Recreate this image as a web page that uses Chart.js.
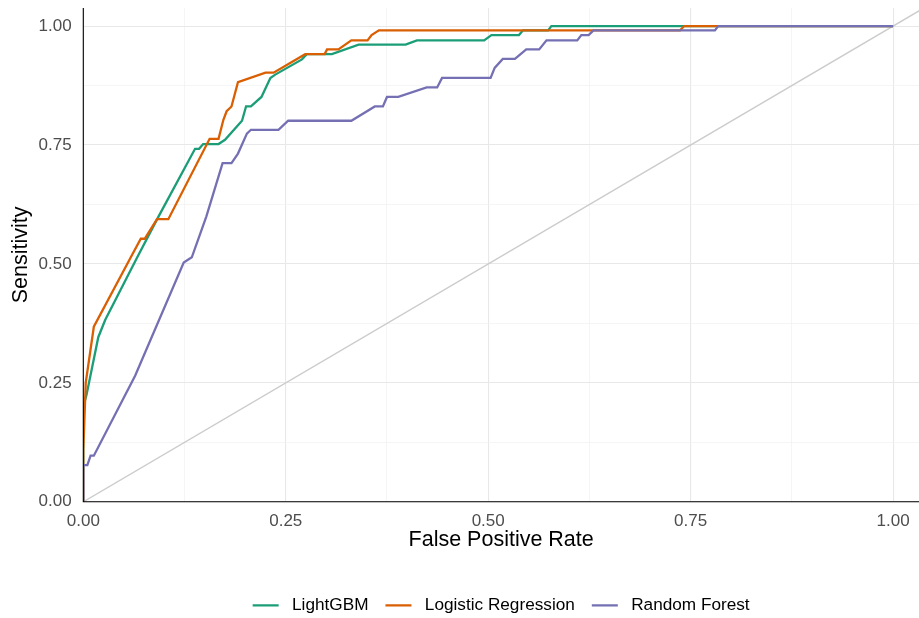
<!DOCTYPE html>
<html>
<head>
<meta charset="utf-8">
<title>ROC curves</title>
<script src="https://cdn.jsdelivr.net/npm/chart.js@4.4.1/dist/chart.umd.min.js"></script>
<style>
    html, body { margin: 0; padding: 0; background: #ffffff; }
    #wrap { width: 919px; height: 618px; }
</style>
</head>
<body>
<div id="wrap"><canvas id="roc"></canvas></div>
<script>
// series
const seriesNames = ["LightGBM", "Logistic Regression", "Random Forest"];
const seriesColors = ["#1b9e77", "#d95f02", "#7570b3"];

const lgbmFpr = [0, 0, 0.004, 0.0185, 0.027, 0.066, 0.093, 0.138, 0.143, 0.148, 0.167, 0.175, 0.196, 0.201, 0.207, 0.220, 0.231, 0.237, 0.270, 0.276, 0.307, 0.340, 0.398, 0.412, 0.495, 0.504, 0.538, 0.543, 0.574, 0.578, 1];
const lgbmTpr = [0, 0.20, 0.225, 0.346, 0.382, 0.512, 0.600, 0.742, 0.742, 0.752, 0.752, 0.761, 0.801, 0.831, 0.831, 0.851, 0.891, 0.898, 0.930, 0.941, 0.941, 0.961, 0.961, 0.970, 0.970, 0.981, 0.981, 0.991, 0.991, 1, 1];

const logregFpr = [0, 0, 0.003, 0.013, 0.058, 0.071, 0.076, 0.091, 0.105, 0.156, 0.167, 0.173, 0.177, 0.183, 0.191, 0.225, 0.235, 0.274, 0.298, 0.301, 0.315, 0.331, 0.351, 0.356, 0.365, 0.737, 0.742, 1];
const logregTpr = [0, 0.109, 0.250, 0.368, 0.512, 0.553, 0.553, 0.594, 0.594, 0.763, 0.763, 0.803, 0.821, 0.831, 0.882, 0.902, 0.902, 0.941, 0.941, 0.951, 0.951, 0.970, 0.970, 0.981, 0.991, 0.991, 1, 1];

const rfFpr = [0, 0, 0.005, 0.009, 0.013, 0.064, 0.124, 0.134, 0.152, 0.172, 0.183, 0.191, 0.202, 0.207, 0.241, 0.253, 0.331, 0.360, 0.370, 0.375, 0.389, 0.424, 0.437, 0.443, 0.503, 0.508, 0.518, 0.533, 0.547, 0.563, 0.572, 0.610, 0.615, 0.624, 0.630, 0.780, 0.784, 1];
const rfTpr = [0, 0.077, 0.077, 0.097, 0.097, 0.265, 0.503, 0.514, 0.600, 0.712, 0.712, 0.732, 0.774, 0.782, 0.782, 0.801, 0.801, 0.831, 0.831, 0.851, 0.851, 0.871, 0.871, 0.891, 0.891, 0.912, 0.931, 0.931, 0.951, 0.951, 0.970, 0.970, 0.981, 0.981, 0.991, 0.991, 1, 1];

const chanceX = [0, 1.05];
const chanceY = [0, 1.05];

const gridValues = [0, 0.125, 0.25, 0.375, 0.5, 0.625, 0.75, 0.875, 1];
const tickLabels = ["0.00", "0.25", "0.50", "0.75", "1.00"];

const xTitle = "False Positive Rate";
const yTitle = "Sensitivity";

const fontFamily = "'Liberation Sans', Arial, Helvetica, sans-serif";

function toPoints(xs, ys) {
    return xs.map((x, i) => ({ x, y: ys[i] }));
}

function curve(index, xs, ys, order) {
    return {
        label: seriesNames[index],
        data: toPoints(xs, ys),
        borderColor: seriesColors[index],
        backgroundColor: seriesColors[index],
        borderWidth: 2.3,
        pointRadius: 0,
        showLine: true,
        tension: 0,
        fill: false,
        order
    };
}

function gridScale(axisMax, title, titlePadding, tickPadding, fitSize) {
    return {
        type: "linear",
        min: 0,
        max: axisMax,
        afterBuildTicks: scale => {
            scale.ticks = gridValues.map(value => ({ value }));
        },
        afterFit: scale => {
            fitSize(scale);
            // no extra room for overhanging labels
            scale.paddingTop = 0;
            scale.paddingBottom = 0;
            scale.paddingLeft = 0;
            scale.paddingRight = 0;
        },
        border: { display: false },
        grid: {
            drawTicks: false,
            color: ctx => ctx.index % 2 === 0 ? "#e8e8e8" : "#f1f1f1",
            lineWidth: ctx => ctx.index % 2 === 0 ? 1.1 : 0.7
        },
        ticks: {
            autoSkip: false,
            maxRotation: 0,
            padding: tickPadding,
            color: "#4d4d4d",
            font: { family: fontFamily, size: 17 },
            callback: (value, index) => index % 2 === 0 ? tickLabels[index / 2] : ""
        },
        title: {
            display: true,
            text: title,
            color: "#000000",
            font: { family: fontFamily, size: 21.5 },
            padding: titlePadding
        }
    };
}

// axis lines sit on top of the curves, as in the reference
const axisLines = {
    id: "axisLines",
    afterDatasetsDraw(chart) {
        const { ctx, chartArea } = chart;
        const x0 = chart.scales.x.getPixelForValue(0);
        const y0 = chart.scales.y.getPixelForValue(0);
        ctx.save();
        ctx.strokeStyle = "#000000";
        ctx.lineWidth = 1.1;
        ctx.beginPath();
        ctx.moveTo(x0, chartArea.top);
        ctx.lineTo(x0, y0);
        ctx.lineTo(chartArea.right, y0);
        ctx.stroke();
        ctx.restore();
    }
};

new Chart(document.getElementById("roc"), {
    type: "scatter",
    data: {
        datasets: [
            curve(0, lgbmFpr, lgbmTpr, 2),
            curve(1, logregFpr, logregTpr, 1),
            curve(2, rfFpr, rfTpr, 0),
            {
                label: "chance",
                data: toPoints(chanceX, chanceY),
                borderColor: "#cccccc",
                borderWidth: 1.4,
                pointRadius: 0,
                showLine: true,
                clip: 0,
                order: 3
            }
        ]
    },
    options: {
        responsive: true,
        maintainAspectRatio: false,
        animation: false,
        layout: {
            padding: { top: 8, right: 0, bottom: -6, left: 0 }
        },
        scales: {
            x: gridScale(1.032, xTitle, { top: 0, bottom: 27 }, 9, scale => { scale.height = 78; }),
            y: gridScale(1.038, yTitle, { top: 8, bottom: 0 }, 11.6, scale => { scale.width = 83.3; })
        },
        plugins: {
            tooltip: { enabled: false },
            legend: {
                position: "bottom",
                fullSize: false,
                labels: {
                    usePointStyle: true,
                    pointStyle: "line",
                    pointStyleWidth: 26,
                    padding: 17,
                    color: "#000000",
                    font: { family: fontFamily, size: 17.2 },
                    filter: item => item.datasetIndex < seriesNames.length,
                    sort: (a, b) => a.datasetIndex - b.datasetIndex,
                    generateLabels: chart => {
                        const items = Chart.defaults.plugins.legend.labels.generateLabels(chart);
                        return items.map(item => ({ ...item, text: " " + item.text }));
                    }
                }
            }
        }
    },
    plugins: [axisLines]
});
</script>
</body>
</html>
